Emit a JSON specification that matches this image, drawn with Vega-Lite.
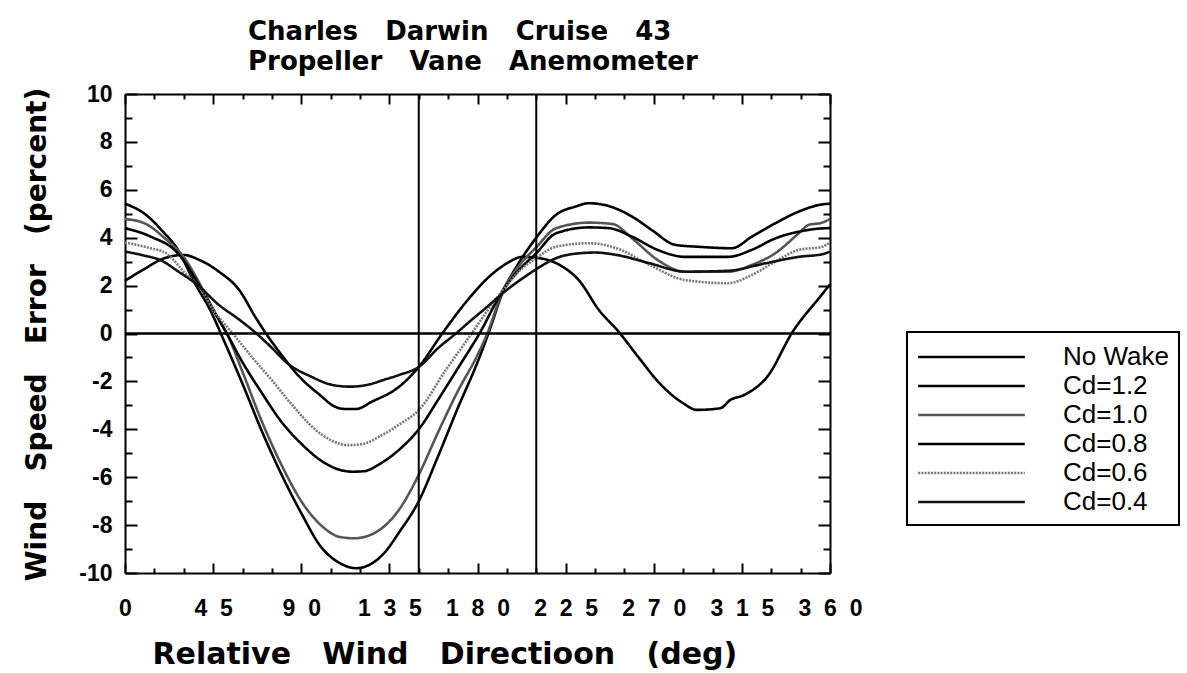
{
  "$schema": "https://vega.github.io/schema/vega-lite/v6.json",
  "width": 705,
  "height": 479,
  "autosize": {"type": "none"},
  "padding": {"left": 125, "top": 94, "right": 357, "bottom": 100},
  "background": "white",
  "title": {
    "text": ["Charles\u00a0\u00a0\u00a0Darwin\u00a0\u00a0\u00a0Cruise\u00a0\u00a0\u00a043", "Propeller\u00a0\u00a0\u00a0Vane\u00a0\u00a0\u00a0Anemometer"],
    "anchor": "start",
    "frame": "group",
    "dx": 123,
    "dy": 38,
    "font": "DejaVu Sans",
    "fontWeight": "bold",
    "fontSize": 26,
    "lineHeight": 30,
    "baseline": "bottom",
    "offset": 20,
    "color": "black"
  },
  "datasets": {
    "curves": [
      {"s":"No Wake","d":0,"e":2.2},{"s":"No Wake","d":10,"e":2.7},{"s":"No Wake","d":20,"e":3.14},{"s":"No Wake","d":30,"e":3.28},{"s":"No Wake","d":38,"e":3.07},{"s":"No Wake","d":48,"e":2.58},{"s":"No Wake","d":58,"e":1.85},{"s":"No Wake","d":67,"e":0.63},{"s":"No Wake","d":72,"e":0.0},{"s":"No Wake","d":80,"e":-0.9},{"s":"No Wake","d":89,"e":-1.8},{"s":"No Wake","d":100,"e":-2.6},{"s":"No Wake","d":106,"e":-3.0},{"s":"No Wake","d":112,"e":-3.15},{"s":"No Wake","d":118,"e":-3.15},{"s":"No Wake","d":126,"e":-2.85},{"s":"No Wake","d":140,"e":-2.22},{"s":"No Wake","d":150,"e":-1.4},{"s":"No Wake","d":162,"e":0.0},{"s":"No Wake","d":175,"e":1.4},{"s":"No Wake","d":185,"e":2.3},{"s":"No Wake","d":195,"e":2.93},{"s":"No Wake","d":203,"e":3.2},{"s":"No Wake","d":212,"e":3.14},{"s":"No Wake","d":222,"e":2.86},{"s":"No Wake","d":232,"e":2.2},{"s":"No Wake","d":242,"e":0.98},{"s":"No Wake","d":252,"e":0.08},{"s":"No Wake","d":262,"e":-0.97},{"s":"No Wake","d":273,"e":-2.08},{"s":"No Wake","d":285,"e":-2.91},{"s":"No Wake","d":292,"e":-3.19},{"s":"No Wake","d":304,"e":-3.12},{"s":"No Wake","d":309,"e":-2.78},{"s":"No Wake","d":316,"e":-2.57},{"s":"No Wake","d":328,"e":-1.8},{"s":"No Wake","d":341,"e":0.08},{"s":"No Wake","d":355,"e":1.54},{"s":"No Wake","d":360,"e":2.05},
      {"s":"Cd=1.2","d":0,"e":5.42},{"s":"Cd=1.2","d":10,"e":5.0},{"s":"Cd=1.2","d":20,"e":4.2},{"s":"Cd=1.2","d":27,"e":3.5},{"s":"Cd=1.2","d":35,"e":2.2},{"s":"Cd=1.2","d":44,"e":0.9},{"s":"Cd=1.2","d":50,"e":-0.2},{"s":"Cd=1.2","d":60,"e":-2.1},{"s":"Cd=1.2","d":70,"e":-4.1},{"s":"Cd=1.2","d":80,"e":-5.9},{"s":"Cd=1.2","d":90,"e":-7.5},{"s":"Cd=1.2","d":100,"e":-8.9},{"s":"Cd=1.2","d":110,"e":-9.6},{"s":"Cd=1.2","d":118,"e":-9.8},{"s":"Cd=1.2","d":125,"e":-9.65},{"s":"Cd=1.2","d":132,"e":-9.2},{"s":"Cd=1.2","d":140,"e":-8.3},{"s":"Cd=1.2","d":150,"e":-7.0},{"s":"Cd=1.2","d":160,"e":-5.1},{"s":"Cd=1.2","d":170,"e":-3.1},{"s":"Cd=1.2","d":180,"e":-1.2},{"s":"Cd=1.2","d":186,"e":0.1},{"s":"Cd=1.2","d":193,"e":1.75},{"s":"Cd=1.2","d":200,"e":2.8},{"s":"Cd=1.2","d":210,"e":4.0},{"s":"Cd=1.2","d":220,"e":4.95},{"s":"Cd=1.2","d":230,"e":5.3},{"s":"Cd=1.2","d":237,"e":5.44},{"s":"Cd=1.2","d":247,"e":5.32},{"s":"Cd=1.2","d":259,"e":4.88},{"s":"Cd=1.2","d":269,"e":4.32},{"s":"Cd=1.2","d":281,"e":3.7},{"s":"Cd=1.2","d":293,"e":3.62},{"s":"Cd=1.2","d":310,"e":3.56},{"s":"Cd=1.2","d":320,"e":4.04},{"s":"Cd=1.2","d":332,"e":4.6},{"s":"Cd=1.2","d":344,"e":5.09},{"s":"Cd=1.2","d":356,"e":5.39},{"s":"Cd=1.2","d":360,"e":5.42},
      {"s":"Cd=1.0","d":0,"e":4.78},{"s":"Cd=1.0","d":10,"e":4.6},{"s":"Cd=1.0","d":20,"e":4.0},{"s":"Cd=1.0","d":31,"e":3.07},{"s":"Cd=1.0","d":39,"e":1.95},{"s":"Cd=1.0","d":48,"e":0.56},{"s":"Cd=1.0","d":52,"e":0.0},{"s":"Cd=1.0","d":60,"e":-1.6},{"s":"Cd=1.0","d":70,"e":-3.7},{"s":"Cd=1.0","d":80,"e":-5.5},{"s":"Cd=1.0","d":90,"e":-7.0},{"s":"Cd=1.0","d":100,"e":-8.0},{"s":"Cd=1.0","d":110,"e":-8.5},{"s":"Cd=1.0","d":117,"e":-8.55},{"s":"Cd=1.0","d":124,"e":-8.45},{"s":"Cd=1.0","d":130,"e":-8.2},{"s":"Cd=1.0","d":140,"e":-7.35},{"s":"Cd=1.0","d":150,"e":-5.9},{"s":"Cd=1.0","d":160,"e":-4.1},{"s":"Cd=1.0","d":170,"e":-2.4},{"s":"Cd=1.0","d":180,"e":-0.9},{"s":"Cd=1.0","d":185,"e":0.0},{"s":"Cd=1.0","d":193,"e":1.8},{"s":"Cd=1.0","d":200,"e":2.7},{"s":"Cd=1.0","d":210,"e":3.6},{"s":"Cd=1.0","d":220,"e":4.39},{"s":"Cd=1.0","d":237,"e":4.63},{"s":"Cd=1.0","d":249,"e":4.57},{"s":"Cd=1.0","d":259,"e":3.97},{"s":"Cd=1.0","d":272,"e":3.07},{"s":"Cd=1.0","d":286,"e":2.58},{"s":"Cd=1.0","d":308,"e":2.58},{"s":"Cd=1.0","d":320,"e":2.86},{"s":"Cd=1.0","d":332,"e":3.35},{"s":"Cd=1.0","d":344,"e":4.18},{"s":"Cd=1.0","d":349,"e":4.53},{"s":"Cd=1.0","d":356,"e":4.63},{"s":"Cd=1.0","d":360,"e":4.78},
      {"s":"Cd=0.8","d":0,"e":4.4},{"s":"Cd=0.8","d":13,"e":4.05},{"s":"Cd=0.8","d":27,"e":3.35},{"s":"Cd=0.8","d":38,"e":2.0},{"s":"Cd=0.8","d":45,"e":1.0},{"s":"Cd=0.8","d":52,"e":0.0},{"s":"Cd=0.8","d":60,"e":-1.2},{"s":"Cd=0.8","d":70,"e":-2.5},{"s":"Cd=0.8","d":80,"e":-3.7},{"s":"Cd=0.8","d":90,"e":-4.6},{"s":"Cd=0.8","d":100,"e":-5.3},{"s":"Cd=0.8","d":110,"e":-5.7},{"s":"Cd=0.8","d":116,"e":-5.77},{"s":"Cd=0.8","d":122,"e":-5.75},{"s":"Cd=0.8","d":130,"e":-5.45},{"s":"Cd=0.8","d":140,"e":-4.85},{"s":"Cd=0.8","d":150,"e":-4.0},{"s":"Cd=0.8","d":160,"e":-2.75},{"s":"Cd=0.8","d":170,"e":-1.45},{"s":"Cd=0.8","d":181,"e":0.0},{"s":"Cd=0.8","d":193,"e":1.8},{"s":"Cd=0.8","d":200,"e":2.55},{"s":"Cd=0.8","d":210,"e":3.35},{"s":"Cd=0.8","d":220,"e":4.18},{"s":"Cd=0.8","d":237,"e":4.43},{"s":"Cd=0.8","d":247,"e":4.4},{"s":"Cd=0.8","d":259,"e":4.04},{"s":"Cd=0.8","d":272,"e":3.49},{"s":"Cd=0.8","d":286,"e":3.2},{"s":"Cd=0.8","d":308,"e":3.2},{"s":"Cd=0.8","d":320,"e":3.49},{"s":"Cd=0.8","d":332,"e":3.97},{"s":"Cd=0.8","d":344,"e":4.25},{"s":"Cd=0.8","d":356,"e":4.39},{"s":"Cd=0.8","d":360,"e":4.4},
      {"s":"Cd=0.6","d":0,"e":3.8},{"s":"Cd=0.6","d":13,"e":3.56},{"s":"Cd=0.6","d":21,"e":3.35},{"s":"Cd=0.6","d":32,"e":2.4},{"s":"Cd=0.6","d":38,"e":1.95},{"s":"Cd=0.6","d":45,"e":1.0},{"s":"Cd=0.6","d":55,"e":0.0},{"s":"Cd=0.6","d":65,"e":-1.0},{"s":"Cd=0.6","d":75,"e":-1.95},{"s":"Cd=0.6","d":85,"e":-2.95},{"s":"Cd=0.6","d":97,"e":-4.0},{"s":"Cd=0.6","d":105,"e":-4.45},{"s":"Cd=0.6","d":114,"e":-4.66},{"s":"Cd=0.6","d":122,"e":-4.6},{"s":"Cd=0.6","d":130,"e":-4.3},{"s":"Cd=0.6","d":140,"e":-3.8},{"s":"Cd=0.6","d":150,"e":-3.2},{"s":"Cd=0.6","d":164,"e":-1.5},{"s":"Cd=0.6","d":177,"e":0.0},{"s":"Cd=0.6","d":185,"e":0.95},{"s":"Cd=0.6","d":193,"e":1.8},{"s":"Cd=0.6","d":200,"e":2.5},{"s":"Cd=0.6","d":210,"e":3.15},{"s":"Cd=0.6","d":220,"e":3.62},{"s":"Cd=0.6","d":237,"e":3.77},{"s":"Cd=0.6","d":251,"e":3.56},{"s":"Cd=0.6","d":268,"e":2.86},{"s":"Cd=0.6","d":286,"e":2.23},{"s":"Cd=0.6","d":308,"e":2.1},{"s":"Cd=0.6","d":320,"e":2.44},{"s":"Cd=0.6","d":332,"e":3.0},{"s":"Cd=0.6","d":344,"e":3.49},{"s":"Cd=0.6","d":356,"e":3.62},{"s":"Cd=0.6","d":360,"e":3.8},
      {"s":"Cd=0.4","d":0,"e":3.42},{"s":"Cd=0.4","d":10,"e":3.25},{"s":"Cd=0.4","d":18,"e":3.07},{"s":"Cd=0.4","d":27,"e":2.6},{"s":"Cd=0.4","d":37,"e":2.03},{"s":"Cd=0.4","d":48,"e":1.19},{"s":"Cd=0.4","d":58,"e":0.6},{"s":"Cd=0.4","d":66,"e":0.08},{"s":"Cd=0.4","d":75,"e":-0.6},{"s":"Cd=0.4","d":83,"e":-1.25},{"s":"Cd=0.4","d":95,"e":-1.8},{"s":"Cd=0.4","d":106,"e":-2.15},{"s":"Cd=0.4","d":115,"e":-2.22},{"s":"Cd=0.4","d":125,"e":-2.12},{"s":"Cd=0.4","d":132,"e":-1.94},{"s":"Cd=0.4","d":140,"e":-1.73},{"s":"Cd=0.4","d":150,"e":-1.4},{"s":"Cd=0.4","d":160,"e":-0.6},{"s":"Cd=0.4","d":169,"e":0.0},{"s":"Cd=0.4","d":176,"e":0.5},{"s":"Cd=0.4","d":183,"e":0.98},{"s":"Cd=0.4","d":195,"e":1.82},{"s":"Cd=0.4","d":208,"e":2.58},{"s":"Cd=0.4","d":212,"e":2.79},{"s":"Cd=0.4","d":220,"e":3.14},{"s":"Cd=0.4","d":232,"e":3.35},{"s":"Cd=0.4","d":240,"e":3.38},{"s":"Cd=0.4","d":251,"e":3.28},{"s":"Cd=0.4","d":268,"e":2.93},{"s":"Cd=0.4","d":286,"e":2.58},{"s":"Cd=0.4","d":308,"e":2.62},{"s":"Cd=0.4","d":327,"e":2.93},{"s":"Cd=0.4","d":344,"e":3.2},{"s":"Cd=0.4","d":356,"e":3.31},{"s":"Cd=0.4","d":360,"e":3.42}
    ]
  },
  "layer": [
    {
      "data": {"name": "curves"},
      "mark": {"type": "line", "interpolate": "monotone"},
      "encoding": {
        "x": {
          "field": "d", "type": "quantitative",
          "scale": {"domain": [0, 360], "nice": false, "zero": false},
          "axis": {
            "orient": "bottom",
            "values": [0,15,30,45,60,75,90,105,120,135,150,165,180,195,210,225,240,255,270,285,300,315,330,345,360],
            "tickSize": {"condition": {"test": "datum.value % 45 === 0", "value": -10}, "value": -5},
            "labelExpr": "datum.value % 45 === 0 ? replace('' + datum.value, regexp('([0-9])(?=[0-9])', 'g'), '$1\u00a0\u00a0') : ''",
            "labelPadding": 34,
            "labelBaseline": "top",
            "labelFlush": false,
            "labelOverlap": false,
            "labelFontSize": 23,
            "title": "Relative\u00a0\u00a0\u00a0Wind\u00a0\u00a0\u00a0Directioon\u00a0\u00a0\u00a0(deg)",
            "titleFontSize": 30,
            "titleAnchor": "start",
            "titleAlign": "left",
            "titleX": 27,
            "titleY": 90,
            "titleBaseline": "alphabetic"
          }
        },
        "y": {
          "field": "e", "type": "quantitative",
          "scale": {"domain": [-10, 10], "nice": false, "zero": false},
          "axis": {
            "orient": "left",
            "values": [-10,-9,-8,-7,-6,-5,-4,-3,-2,-1,0,1,2,3,4,5,6,7,8,9,10],
            "tickSize": {"condition": {"test": "datum.value % 2 === 0", "value": -12}, "value": -7},
            "labelExpr": "datum.value % 2 === 0 ? '' + datum.value : ''",
            "labelPadding": 25,
            "labelOverlap": false,
            "labelFontSize": 23,
            "title": "Wind\u00a0\u00a0\u00a0Speed\u00a0\u00a0\u00a0Error\u00a0\u00a0\u00a0(percent)",
            "titleFontSize": 28,
            "titleX": -80,
            "titleY": 240,
            "titleAngle": 270,
            "titleAlign": "center",
            "titleBaseline": "alphabetic"
          }
        },
        "color": {
          "field": "s", "type": "nominal",
          "scale": {"domain": ["No Wake","Cd=1.2","Cd=1.0","Cd=0.8","Cd=0.6","Cd=0.4"], "range": ["#000000","#000000","#555555","#000000","#777777","#111111"]},
          "legend": {"title": null, "orient": "none", "legendX": 782, "legendY": 238}
        },
        "strokeWidth": {
          "field": "s", "type": "nominal",
          "scale": {"domain": ["No Wake","Cd=1.2","Cd=1.0","Cd=0.8","Cd=0.6","Cd=0.4"], "range": [2.6,2.6,1.3,2.6,2,2.3]},
          "legend": {"title": null, "orient": "none", "legendX": 782, "legendY": 238}
        },
        "strokeDash": {
          "field": "s", "type": "nominal",
          "scale": {"domain": ["No Wake","Cd=1.2","Cd=1.0","Cd=0.8","Cd=0.6","Cd=0.4"], "range": [[1,0],[1,0],[1,0],[1,0],[2,1.2],[1,0]]},
          "legend": {"title": null, "orient": "none", "legendX": 782, "legendY": 238}
        }
      }
    },
    {
      "data": {"values": [{"v": 150}, {"v": 210}]},
      "mark": {"type": "rule", "color": "black", "strokeWidth": 2},
      "encoding": {
        "x": {
          "field": "v", "type": "quantitative",
          "scale": {"domain": [0, 360], "nice": false, "zero": false},
          "axis": {
            "orient": "top",
            "values": [0,15,30,45,60,75,90,105,120,135,150,165,180,195,210,225,240,255,270,285,300,315,330,345,360],
            "tickSize": {"condition": {"test": "datum.value % 45 === 0", "value": -10}, "value": -5},
            "labels": false,
            "title": null
          }
        }
      }
    },
    {
      "data": {"values": [{"h": 0}]},
      "mark": {"type": "rule", "color": "black", "strokeWidth": 2.5},
      "encoding": {
        "y": {
          "field": "h", "type": "quantitative",
          "scale": {"domain": [-10, 10], "nice": false, "zero": false},
          "axis": {
            "orient": "right",
            "values": [-10,-9,-8,-7,-6,-5,-4,-3,-2,-1,0,1,2,3,4,5,6,7,8,9,10],
            "tickSize": {"condition": {"test": "datum.value % 2 === 0", "value": -12}, "value": -7},
            "labels": false,
            "title": null
          }
        }
      }
    }
  ],
  "resolve": {"axis": {"x": "independent", "y": "independent"}},
  "config": {
    "view": {"stroke": null},
    "axis": {
      "grid": false,
      "domainColor": "black",
      "domainWidth": 2,
      "tickColor": "black",
      "tickWidth": 2,
      "labelColor": "black",
      "titleColor": "black",
      "labelFont": "Liberation Sans",
      "labelFontWeight": "bold",
      "titleFont": "DejaVu Sans",
      "titleFontWeight": "bold"
    },
    "legend": {
      "strokeColor": "black",
      "strokeWidth": 2,
      "fillColor": "white",
      "padding": 10,
      "symbolType": "M-3.95,0H3.95",
      "symbolSize": 729,
      "symbolOffset": 39.5,
      "labelFont": "Liberation Sans",
      "labelFontSize": 26,
      "labelColor": "black",
      "labelOffset": 76.5,
      "labelLimit": 300,
      "rowPadding": 1
    }
  }
}
